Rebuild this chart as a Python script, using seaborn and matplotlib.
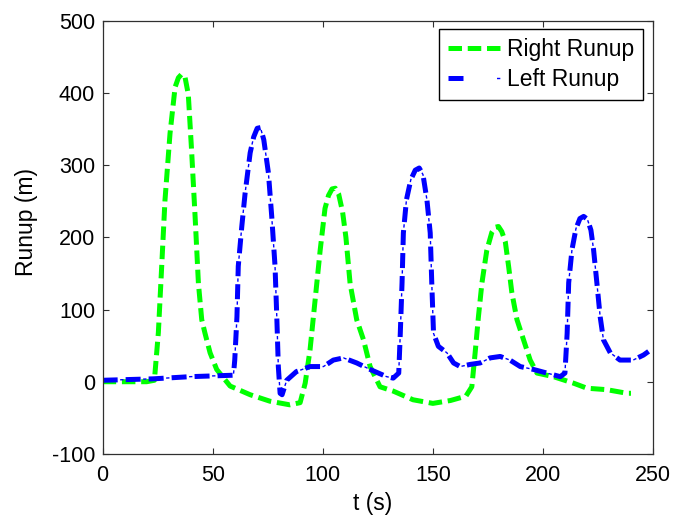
import matplotlib
matplotlib.use("Agg")
import matplotlib.pyplot as plt
from matplotlib.legend_handler import HandlerTuple
import seaborn as sns

# Right-side runup time series
t_right = [0, 10, 20, 23.5, 25.3, 26.8, 28.3, 30.6, 32.9, 34.4, 35.9, 37.4, 38.9, 40.4,
           42.0, 43.5, 45.0, 46.5, 48.8, 51.8, 57.9, 67.0, 76.0, 85.0, 89.7, 92.0,
           94.2, 96.5, 98.8, 101.0, 102.6, 104.2, 105.7, 107.2, 109.0, 110.5, 112.4,
           115.4, 118.5, 121.5, 126.0, 132.0, 141.0, 150.0, 158.0, 165.0, 167.7,
           169.2, 170.7, 172.3, 174.5, 176.8, 178.4, 179.8, 181.3, 182.9, 184.4,
           185.9, 188.2, 191.2, 194.2, 197.3, 204.8, 213.9, 220.0, 229.0, 238.2, 240.0]
runup_right = [0, 0, 0, 2, 68, 159, 251, 344, 408, 421, 426, 422, 398, 320,
               228, 136, 86, 67, 40, 17, -6, -18, -27, -32, -29, -2,
               44, 113, 182, 240, 258, 267, 268, 260, 235, 200, 136,
               86, 58, 21, -7, -13, -25, -30, -26, -20, -7,
               40, 90, 137, 182, 207, 214, 215, 208, 194, 160,
               123, 86, 58, 30, 12, 7, -2, -9, -11, -16, -16]

# Left-side runup time series
t_left = [0, 23, 39.7, 59.4, 60.0, 61.0, 61.6, 63.2, 64.7, 67.0, 68.6, 70.2, 71.7, 73.2,
          75.3, 76.8, 78.3, 79.1, 79.8, 80.6, 81.5, 83.6, 88.0, 94.2, 100.3, 104.8,
          109.4, 115.4, 121.5, 129.0, 132.0, 134.5, 135.2, 136.0, 136.6, 138.0, 140.0,
          142.0, 143.8, 145.5, 147.3, 148.8, 149.5, 150.3, 152.5, 156.4, 159.4, 162.4,
          167.0, 171.5, 176.0, 180.6, 185.0, 189.7, 195.7, 201.8, 207.9, 210.0, 211.0,
          211.7, 213.2, 215.0, 216.8, 218.5, 220.2, 221.8, 223.0, 224.5, 226.0, 227.5,
          230.6, 235.0, 241.0, 245.7, 248.0]
runup_left = [2, 4, 7, 9, 30, 90, 160, 215, 261, 317, 339, 351, 352, 335,
              289, 229, 160, 90, 21, -16, -18, 2, 14, 21, 21, 30,
              33, 26, 17, 7, 5, 12, 67, 137, 206, 252, 280,
              293, 296, 287, 252, 206, 137, 67, 49, 40, 26, 21,
              24, 26, 33, 35, 30, 21, 17, 12, 7, 12, 67,
              137, 183, 212, 226, 229, 225, 210, 183, 137, 90, 58,
              40, 30, 30, 37, 42]

x_ticks = [0, 50, 100, 150, 200, 250]
y_ticks = [-100, 0, 100, 200, 300, 400, 500]

sns.set_style("white")
plt.rcParams["font.family"] = ["Liberation Sans", "DejaVu Sans"]
plt.rcParams["axes.unicode_minus"] = False
plt.rcParams["text.color"] = "black"
plt.rcParams["axes.labelcolor"] = "black"
plt.rcParams["xtick.color"] = "black"
plt.rcParams["ytick.color"] = "black"
plt.rcParams["axes.edgecolor"] = "#303030"
plt.rcParams["axes.linewidth"] = 0.9

fig = plt.figure(figsize=(6.75, 5.18), dpi=100)
ax = fig.add_axes([0.1521, 0.1237, 0.8153, 0.8363])

lw = 3.6
green = "#00FF00"
blue = "#0000FF"

sns.lineplot(x=t_right, y=runup_right, ax=ax, color=green, linewidth=lw,
             sort=False, estimator=None)
line_right = ax.lines[-1]
line_right.set_linestyle((0, (2.7, 1.15)))

# dash-dot: heavy dashes plus a thin stroke marking the dots in the gaps
sns.lineplot(x=t_left, y=runup_left, ax=ax, color=blue, linewidth=lw,
             sort=False, estimator=None)
line_left = ax.lines[-1]
line_left.set_linestyle((0, (3.0, 1.6)))
sns.lineplot(x=t_left, y=runup_left, ax=ax, color=blue, linewidth=1.0,
             sort=False, estimator=None)
line_left_dot = ax.lines[-1]
line_left_dot.set_linestyle((3.96, (2.4, 14.16)))

ax.set_xlim(0, 250)
ax.set_ylim(-100, 500)
ax.set_xticks(x_ticks)
ax.set_yticks(y_ticks)
ax.tick_params(axis="both", which="major", direction="in", length=4.5, width=0.8,
               color="#303030", labelcolor="black", labelsize=15.5, top=True,
               right=True, bottom=True, left=True)
ax.tick_params(axis="x", pad=8)
ax.tick_params(axis="y", pad=5.5)

ax.set_xlabel("t (s)", fontsize=16.5)
ax.set_ylabel("Runup (m)", fontsize=16.5)
ax.xaxis.set_label_coords(0.49, -0.088)
ax.yaxis.set_label_coords(-0.118, 0.536)

leg = ax.legend([line_right, (line_left, line_left_dot)],
                ["Right Runup", "Left Runup"],
                handler_map={tuple: HandlerTuple(ndivide=None)},
                loc="upper right", bbox_to_anchor=(0.982, 0.981),
                borderaxespad=0, fontsize=16.5, frameon=True, fancybox=False,
                framealpha=1, edgecolor="black", handlelength=2.4,
                handletextpad=0.2, labelspacing=0.32, borderpad=0.38)
leg.get_frame().set_linewidth(1.0)

fig.savefig("out.png", dpi=100, facecolor="white")
